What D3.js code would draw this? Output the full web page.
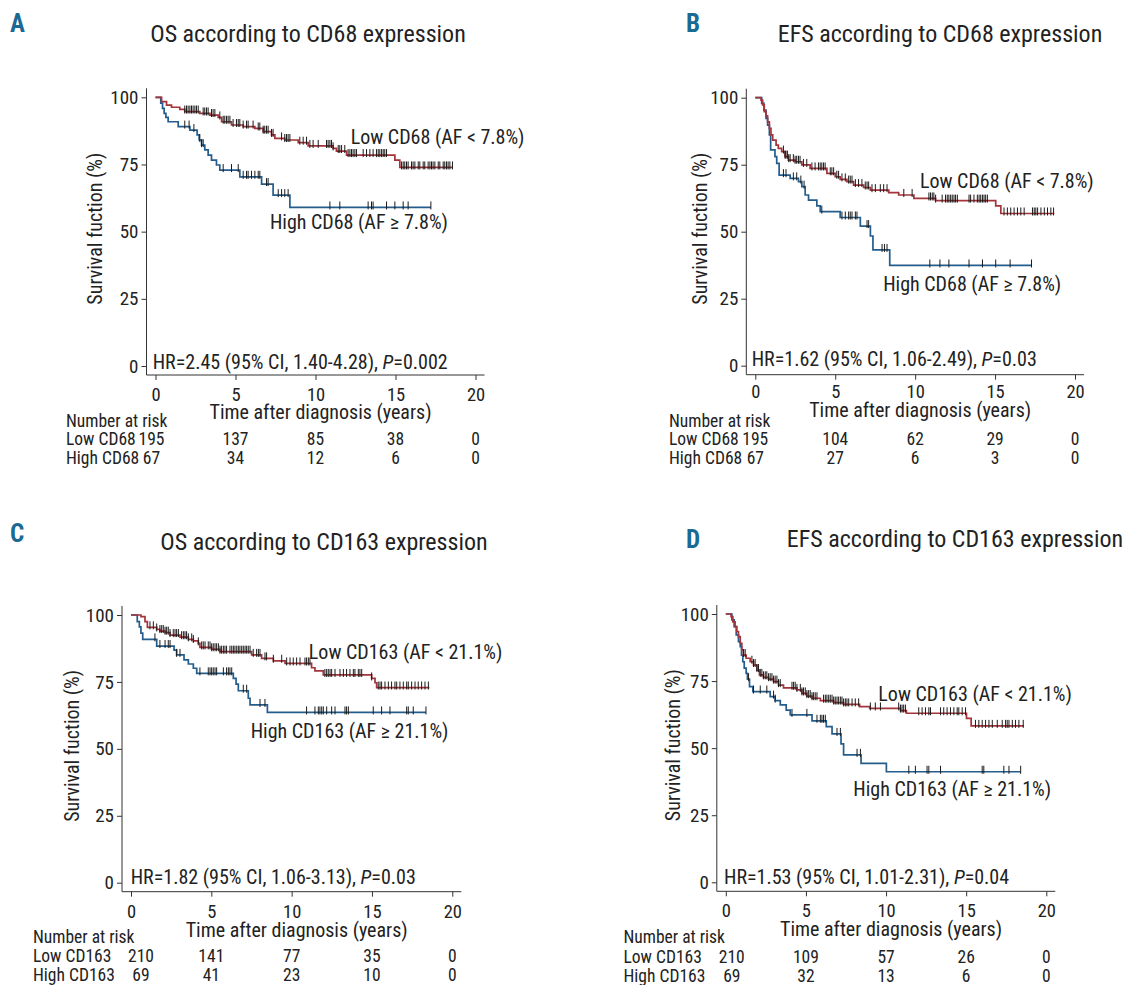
<!DOCTYPE html>
<html><head><meta charset="utf-8">
<script src="https://cdn.jsdelivr.net/npm/d3@7"></script>
<style>
body{margin:0;background:#fff;}
svg text{font-family:"Liberation Sans Narrow","Arial Narrow","Roboto Condensed",sans-serif;fill:#222;}
</style></head><body>
<svg id="c" width="1126" height="985"></svg>
<script>
// ---------- shared ticks ----------
const xTicks = [0, 5, 10, 15, 20];
const yTicks = [0, 25, 50, 75, 100];
const riskTimes = [0, 5, 10, 15, 20];

// ---------- Panel A: OS by CD68 ----------
const aTitle = "OS according to CD68 expression";
const aLowLabel = "Low CD68 (AF < 7.8%)", aHighLabel = "High CD68 (AF \u2265 7.8%)";
const aRiskLabels = ["Low CD68", "High CD68"];
const aHR = ["HR=2.45 (95% CI, 1.40-4.28), ", "=0.002"];
const aLowSteps = [[0.38,98.4],[0.69,97.1],[1.00,96.3],[1.52,95.5],[1.83,94.7],[2.77,94.0],[3.40,93.4],[3.92,92.5],[4.13,90.9],[4.75,89.7],[5.48,89.1],[6.21,88.4],[6.73,87.2],[7.25,86.0],[7.46,84.7],[8.08,84.1],[8.92,83.1],[9.54,81.9],[11.10,81.0],[11.31,80.0],[11.94,78.5],[14.96,76.6],[15.27,73.9]];
const aLowEnd = 18.56;
const aLowCensor = [1.83,1.94,2.04,2.15,2.25,2.35,2.46,2.56,2.67,2.98,3.08,3.19,3.29,3.50,3.60,3.71,4.02,4.23,4.33,4.44,4.54,4.65,4.85,5.06,5.17,5.27,5.48,5.69,5.79,6.10,6.42,6.52,6.73,6.83,6.94,7.04,7.25,7.35,7.88,8.08,8.19,8.29,8.40,9.02,9.23,9.44,9.65,9.85,10.17,10.69,10.79,10.90,11.00,11.10,11.42,11.52,11.63,11.83,12.04,12.15,12.25,12.35,12.46,12.56,12.98,13.19,13.40,13.60,13.81,13.92,14.02,14.13,14.23,14.33,14.44,15.38,15.48,15.58,15.69,15.79,16.00,16.10,16.21,16.42,16.52,16.73,16.83,17.04,17.15,17.25,17.35,17.46,17.67,17.77,17.98,18.08,18.19,18.29,18.40,18.56];
const aHighSteps = [[0.33,97.8],[0.44,95.9],[0.54,94.0],[0.65,92.5],[0.79,90.9],[1.42,89.1],[2.15,87.8],[2.60,86.0],[2.73,84.1],[2.88,82.2],[3.08,80.4],[3.29,78.5],[3.50,76.6],[3.81,74.8],[4.02,72.9],[5.27,70.4],[6.63,67.7],[7.35,63.6],[8.40,59.0]];
const aHighEnd = 17.21;
const aHighCensor = [1.83,2.10,2.40,2.77,2.88,2.98,4.23,4.75,5.17,5.48,5.69,5.79,6.00,6.21,6.42,6.52,6.94,7.04,7.67,7.88,8.08,8.29,10.90,11.52,13.29,13.50,13.60,14.44,14.96,15.48,15.79,17.21];
const aRiskLow = [195, 137, 85, 38, 0];
const aRiskHigh = [67, 34, 12, 6, 0];

// ---------- Panel B: EFS by CD68 ----------
const bTitle = "EFS according to CD68 expression";
const bLowLabel = "Low CD68 (AF < 7.8%)", bHighLabel = "High CD68 (AF \u2265 7.8%)";
const bRiskLabels = ["Low CD68", "High CD68"];
const bHR = ["HR=1.62 (95% CI, 1.06-2.49), ", "=0.03"];
const bLowSteps = [[0.36,99.1],[0.46,97.3],[0.56,94.8],[0.67,93.2],[0.77,91.0],[0.88,88.6],[0.98,86.1],[1.09,84.2],[1.30,82.3],[1.44,81.1],[1.65,79.9],[1.86,78.0],[2.07,76.7],[2.49,76.1],[2.91,74.9],[3.43,73.6],[4.48,71.8],[5.00,70.5],[5.31,69.5],[5.73,68.7],[6.15,67.4],[6.78,66.5],[7.20,65.5],[8.35,64.6],[8.97,63.7],[9.92,62.4],[11.28,61.6],[15.04,59.6],[15.36,56.8]];
const bLowEnd = 18.70;
const bLowCensor = [1.76,1.86,1.92,2.01,2.09,2.18,2.38,2.49,2.59,2.70,2.80,3.01,3.22,3.54,3.74,3.95,4.06,4.16,4.27,4.37,4.69,4.79,4.90,5.10,5.21,5.42,5.63,5.84,5.94,6.05,6.26,6.46,6.67,6.88,6.99,7.09,7.30,7.51,7.82,8.03,8.24,9.29,9.81,10.86,10.96,11.07,11.17,11.28,11.69,11.90,12.01,12.11,12.22,12.32,12.43,12.53,12.64,13.37,13.47,13.68,13.89,14.00,14.10,14.21,14.31,14.41,14.52,15.56,15.77,15.98,16.19,16.40,16.61,16.82,17.34,17.45,17.55,17.66,17.87,18.08,18.28,18.49,18.66];
const bHighSteps = [[0.40,97.9],[0.54,95.4],[0.67,92.3],[0.77,89.8],[0.88,86.1],[0.96,80.5],[1.23,78.0],[1.34,75.5],[1.49,71.1],[2.18,69.9],[2.70,68.7],[2.91,66.8],[3.12,63.7],[3.33,61.8],[3.85,59.6],[4.06,57.5],[5.31,55.3],[6.57,52.1],[7.20,48.4],[7.36,43.2],[8.41,37.4]];
const bHighEnd = 17.28;
const bHighCensor = [1.76,1.92,2.38,2.59,2.85,3.05,4.16,5.42,5.63,5.84,5.94,6.05,6.26,6.36,6.99,7.09,7.93,8.08,8.24,10.92,11.55,12.11,13.37,14.21,15.04,15.94,17.28];
const bRiskLow = [195, 104, 62, 29, 0];
const bRiskHigh = [67, 27, 6, 3, 0];

// ---------- Panel C: OS by CD163 ----------
const cTitle = "OS according to CD163 expression";
const cLowLabel = "Low CD163 (AF < 21.1%)", cHighLabel = "High CD163 (AF \u2265 21.1%)";
const cRiskLabels = ["Low CD163", "High CD163"];
const cHR = ["HR=1.82 (95% CI, 1.06-3.13), ", "=0.03"];
const cLowSteps = [[0.62,99.4],[0.87,97.5],[1.02,95.4],[1.60,94.6],[1.80,94.0],[2.12,93.4],[2.43,92.5],[3.05,91.7],[3.57,90.9],[3.88,90.3],[4.19,89.4],[4.29,87.9],[5.02,87.2],[5.54,86.3],[7.51,85.1],[8.13,83.8],[8.86,82.9],[9.59,81.9],[11.24,80.3],[11.45,79.1],[11.97,77.6],[14.98,76.3],[15.19,74.7],[15.29,72.9]];
const cLowEnd = 18.57;
const cLowCensor = [1.18,1.39,1.60,1.80,1.91,2.01,2.12,2.22,2.32,2.43,2.63,2.74,2.84,2.95,3.15,3.26,3.36,3.46,3.57,3.78,3.88,4.19,4.40,4.50,4.61,4.81,4.92,5.02,5.12,5.23,5.33,5.44,5.54,5.64,5.75,5.85,5.95,6.16,6.27,6.37,6.47,6.58,6.68,6.78,6.89,6.99,7.10,7.20,7.30,7.41,7.61,7.82,7.93,8.03,8.34,8.44,8.86,9.38,9.69,9.90,10.10,10.31,10.52,10.83,10.93,11.04,11.14,12.07,12.18,12.28,12.39,12.49,12.70,13.01,13.22,13.42,13.63,13.84,13.94,14.15,14.25,14.36,14.98,15.39,15.50,15.60,15.81,16.02,16.22,16.43,16.54,16.74,16.95,17.16,17.26,17.47,17.68,17.88,18.09,18.30,18.51];
const cHighSteps = [[0.39,97.5],[0.52,95.6],[0.62,93.2],[0.73,90.9],[1.60,88.4],[2.68,86.9],[2.84,85.1],[3.30,83.2],[3.57,81.7],[3.88,80.1],[4.09,78.2],[6.37,76.3],[6.54,74.2],[6.68,71.7],[7.30,68.9],[7.41,66.4],[8.49,63.6]];
const cHighEnd = 18.36;
const cHighCensor = [1.49,1.80,2.12,2.32,2.43,2.84,3.05,4.29,4.81,4.92,5.02,5.12,5.23,5.33,5.75,5.95,6.06,6.16,6.27,6.99,7.20,8.03,8.34,10.93,11.45,11.66,11.76,11.87,11.97,12.18,12.49,12.70,13.32,13.42,13.53,15.08,15.60,16.12,17.16,17.26,17.57,18.36];
const cRiskLow = [210, 141, 77, 35, 0];
const cRiskHigh = [69, 41, 23, 10, 0];

// ---------- Panel D: EFS by CD163 ----------
const dTitle = "EFS according to CD163 expression";
const dLowLabel = "Low CD163 (AF < 21.1%)", dHighLabel = "High CD163 (AF \u2265 21.1%)";
const dRiskLabels = ["Low CD163", "High CD163"];
const dHR = ["HR=1.53 (95% CI, 1.01-2.31), ", "=0.04"];
const dLowSteps = [[0.33,99.0],[0.44,97.1],[0.58,95.3],[0.69,93.4],[0.79,91.6],[0.90,89.1],[1.00,86.6],[1.10,84.7],[1.27,83.5],[1.52,82.2],[1.73,81.0],[1.94,79.1],[2.10,77.3],[2.35,76.4],[2.67,75.7],[2.98,74.8],[3.29,73.5],[3.60,72.5],[4.44,71.7],[4.75,70.4],[5.06,69.4],[5.38,68.6],[5.90,67.7],[6.73,67.0],[7.35,66.3],[8.35,65.5],[8.98,64.8],[10.90,64.0],[11.27,63.0],[15.02,61.1],[15.31,58.3]];
const dLowEnd = 18.60;
const dLowCensor = [1.10,1.21,1.63,1.73,1.83,1.94,2.04,2.15,2.25,2.35,2.46,2.56,2.67,2.77,2.88,2.98,3.08,3.19,3.29,3.40,4.13,4.23,4.33,4.44,4.65,4.75,4.85,4.96,5.06,5.17,5.27,5.38,5.48,5.58,5.69,6.10,6.21,6.31,6.42,6.52,6.63,6.73,6.83,6.94,7.04,7.15,7.25,7.35,7.46,7.56,7.67,7.88,8.08,8.29,9.02,9.33,9.65,10.79,10.90,11.00,11.10,11.21,12.04,12.25,12.46,12.67,12.77,13.40,13.60,13.81,14.02,14.23,14.44,14.54,14.75,14.96,15.58,15.79,16.00,16.21,16.42,16.63,16.94,17.25,17.46,17.56,17.67,17.88,18.08,18.29,18.56];
const dHighSteps = [[0.38,97.8],[0.52,95.3],[0.65,92.2],[0.79,89.7],[0.90,87.8],[0.98,84.7],[1.06,82.2],[1.15,79.8],[1.27,77.9],[1.35,75.7],[1.48,72.9],[1.69,71.1],[2.77,69.2],[3.08,67.7],[3.40,66.1],[3.77,64.2],[4.02,62.4],[5.38,60.2],[6.27,58.0],[6.63,55.3],[7.19,51.6],[7.35,47.5],[8.44,44.3],[10.02,41.2]];
const dHighEnd = 18.40;
const dHighCensor = [1.42,1.73,2.15,2.56,2.98,3.08,4.13,5.06,5.69,5.90,6.00,6.10,6.21,6.94,7.15,8.19,8.40,11.42,11.83,12.56,12.67,13.40,16.00,16.10,17.35,17.67,18.40];
const dRiskLow = [210, 109, 57, 26, 0];
const dRiskHigh = [69, 32, 13, 6, 0];

// ---------- shared text ----------
const yAxisTitle = "Survival fuction (%)";
const xAxisTitle = "Time after diagnosis (years)";
const riskHeader = "Number at risk";
const panelLetters = ["A", "B", "C", "D"];

// ---------- layout (pixels) ----------
const layouts = [
  {x0:155.5, x20:475.5, y0:366, y100:97.3, letter:[10,32], title:[308,42], yLabX:95,
   riskX:66, firstOff:-4, tickY:395, axTitleY:412, narY:421, lowY:439, highY:458,
   lowLab:[12.2,85.3], highLab:[7.15,53.6], hr:[152.7,361.7]},
  {x0:755.3, x20:1075, y0:365.7, y100:97.7, letter:[686,32], title:[940,42], yLabX:700,
   riskX:669, firstOff:0, tickY:392, axTitleY:410, narY:421, lowY:439.3, highY:458,
   lowLab:[10.3,69.0], highLab:[8.0,30.5], hr:[751.7,359]},
  {x0:131, x20:452.3, y0:882.7, y100:615, letter:[10,542], title:[324,550], yLabX:72,
   riskX:33, firstOff:10, tickY:912, axTitleY:930, narY:937, lowY:956, highY:975,
   lowLab:[11.07,86.1], highLab:[7.45,56.6], hr:[130.7,877]},
  {x0:725.8, x20:1046.3, y0:882.3, y100:614, letter:[686,548], title:[955,547], yLabX:673,
   riskX:623.5, firstOff:6, tickY:911, axTitleY:929, narY:937, lowY:956.5, highY:975.6,
   lowLab:[9.52,70.0], highLab:[7.96,34.9], hr:[724,876.7]}
];

const panels = [
  {title:aTitle, lowLabel:aLowLabel, highLabel:aHighLabel, riskLabels:aRiskLabels, hr:aHR,
   low:{steps:aLowSteps, end:aLowEnd, censor:aLowCensor, risk:aRiskLow},
   high:{steps:aHighSteps, end:aHighEnd, censor:aHighCensor, risk:aRiskHigh}},
  {title:bTitle, lowLabel:bLowLabel, highLabel:bHighLabel, riskLabels:bRiskLabels, hr:bHR,
   low:{steps:bLowSteps, end:bLowEnd, censor:bLowCensor, risk:bRiskLow},
   high:{steps:bHighSteps, end:bHighEnd, censor:bHighCensor, risk:bRiskHigh}},
  {title:cTitle, lowLabel:cLowLabel, highLabel:cHighLabel, riskLabels:cRiskLabels, hr:cHR,
   low:{steps:cLowSteps, end:cLowEnd, censor:cLowCensor, risk:cRiskLow},
   high:{steps:cHighSteps, end:cHighEnd, censor:cHighCensor, risk:cRiskHigh}},
  {title:dTitle, lowLabel:dLowLabel, highLabel:dHighLabel, riskLabels:dRiskLabels, hr:dHR,
   low:{steps:dLowSteps, end:dLowEnd, censor:dLowCensor, risk:dRiskLow},
   high:{steps:dHighSteps, end:dHighEnd, censor:dHighCensor, risk:dRiskHigh}}
];

const RED = "#a3343b", BLUE = "#245d8c", LETTER = "#1b6a94", AXIS = "#333";
const svg = d3.select("#c");

function survAt(steps, t) {
  let s = 100;
  for (const [st, sv] of steps) { if (st <= t + 1e-9) s = sv; else break; }
  return s;
}

panels.forEach((p, i) => {
  const L = layouts[i];
  const g = svg.append("g");
  const x = d3.scaleLinear().domain([0, 20]).range([L.x0, L.x20]);
  const y = d3.scaleLinear().domain([0, 100]).range([L.y0, L.y100]);
  const pad = 9;
  const axX = L.x0 - pad, axY = L.y0 + pad;

  // letter & title
  g.append("text").attr("x", L.letter[0]).attr("y", L.letter[1]).text(panelLetters[i])
    .style("font-size", "25px").style("font-weight", "bold").style("fill", LETTER);
  g.append("text").attr("x", L.title[0]).attr("y", L.title[1]).attr("text-anchor", "middle")
    .style("font-size", "24px").text(p.title);

  // axes
  const ya = g.append("g").attr("transform", `translate(${axX},0)`)
    .call(d3.axisLeft(y).tickValues(yTicks).tickSize(5).tickSizeOuter(0).tickPadding(3));
  ya.select(".domain").remove();
  ya.selectAll(".tick line").attr("stroke", AXIS);
  ya.selectAll(".tick text").style("font-size", "19px").style("font-family", null).attr("fill", "#222");
  const xa = g.append("g").attr("transform", `translate(0,${axY})`)
    .call(d3.axisBottom(x).tickValues(xTicks).tickSize(5).tickSizeOuter(0).tickPadding(8));
  xa.select(".domain").remove();
  xa.selectAll(".tick line").attr("stroke", AXIS);
  xa.selectAll(".tick text").style("font-size", "18.5px").style("font-family", null).attr("fill", "#222")
    .each(function(){ d3.select(this).attr("y", L.tickY - axY).attr("dy", "0.35em"); });
  g.append("line").attr("x1", axX).attr("x2", axX).attr("y1", L.y100 - pad).attr("y2", axY)
    .attr("stroke", AXIS).attr("stroke-width", 1);
  g.append("line").attr("x1", axX).attr("x2", L.x20 + pad).attr("y1", axY).attr("y2", axY)
    .attr("stroke", AXIS).attr("stroke-width", 1);

  // axis titles
  g.append("text").attr("transform", `translate(${L.yLabX},${y(50) - 3}) rotate(-90)`)
    .attr("text-anchor", "middle").attr("dy", "0.35em").style("font-size", "20px").text(yAxisTitle);
  g.append("text").attr("x", x(10) + 5).attr("y", L.axTitleY).attr("dy", "0.35em")
    .attr("text-anchor", "middle").style("font-size", "20px").text(xAxisTitle);

  // curves
  const line = d3.line().x(d => x(d[0])).y(d => y(d[1])).curve(d3.curveStepAfter);
  [["high", BLUE], ["low", RED]].forEach(([k, col]) => {
    const c = p[k];
    const pts = [[0, 100], ...c.steps, [c.end, c.steps[c.steps.length - 1][1]]];
    g.append("path").attr("d", line(pts)).attr("fill", "none").attr("stroke", col)
      .attr("stroke-width", 1.7).attr("stroke-linejoin", "miter");
  });
  ["high", "low"].forEach(k => {
    const c = p[k];
    g.append("g").selectAll("line").data(c.censor).join("line")
      .attr("x1", d => x(d)).attr("x2", d => x(d))
      .attr("y1", d => y(survAt(c.steps, d)) - 6).attr("y2", d => y(survAt(c.steps, d)) + 2)
      .attr("stroke", "#1a1a1a").attr("stroke-width", 1);
  });

  // curve labels
  g.append("text").attr("x", x(L.lowLab[0])).attr("y", y(L.lowLab[1])).attr("dy", "0.35em")
    .style("font-size", "20px").text(p.lowLabel);
  g.append("text").attr("x", x(L.highLab[0])).attr("y", y(L.highLab[1])).attr("dy", "0.35em")
    .style("font-size", "20px").text(p.highLabel);

  // HR text
  const hr = g.append("text").attr("x", L.hr[0]).attr("y", L.hr[1]).attr("dy", "0.35em").style("font-size", "20px");
  hr.append("tspan").text(p.hr[0]);
  hr.append("tspan").style("font-style", "italic").text("P");
  hr.append("tspan").text(p.hr[1]);

  // risk table
  g.append("text").attr("x", L.riskX).attr("y", L.narY).attr("dy", "0.35em").style("font-size", "17.5px").text(riskHeader);
  [[p.riskLabels[0], p.low.risk, L.lowY], [p.riskLabels[1], p.high.risk, L.highY]].forEach(([lab, vals, ry]) => {
    g.append("text").attr("x", L.riskX).attr("y", ry).attr("dy", "0.35em").style("font-size", "17.5px").text(lab);
    g.append("g").selectAll("text").data(riskTimes).join("text")
      .attr("x", (t, j) => x(t) + (j === 0 ? L.firstOff : 0)).attr("y", ry).attr("dy", "0.35em")
      .attr("text-anchor", "middle").style("font-size", "17.5px").text((t, j) => vals[j]);
  });
});
</script>
</body></html>
